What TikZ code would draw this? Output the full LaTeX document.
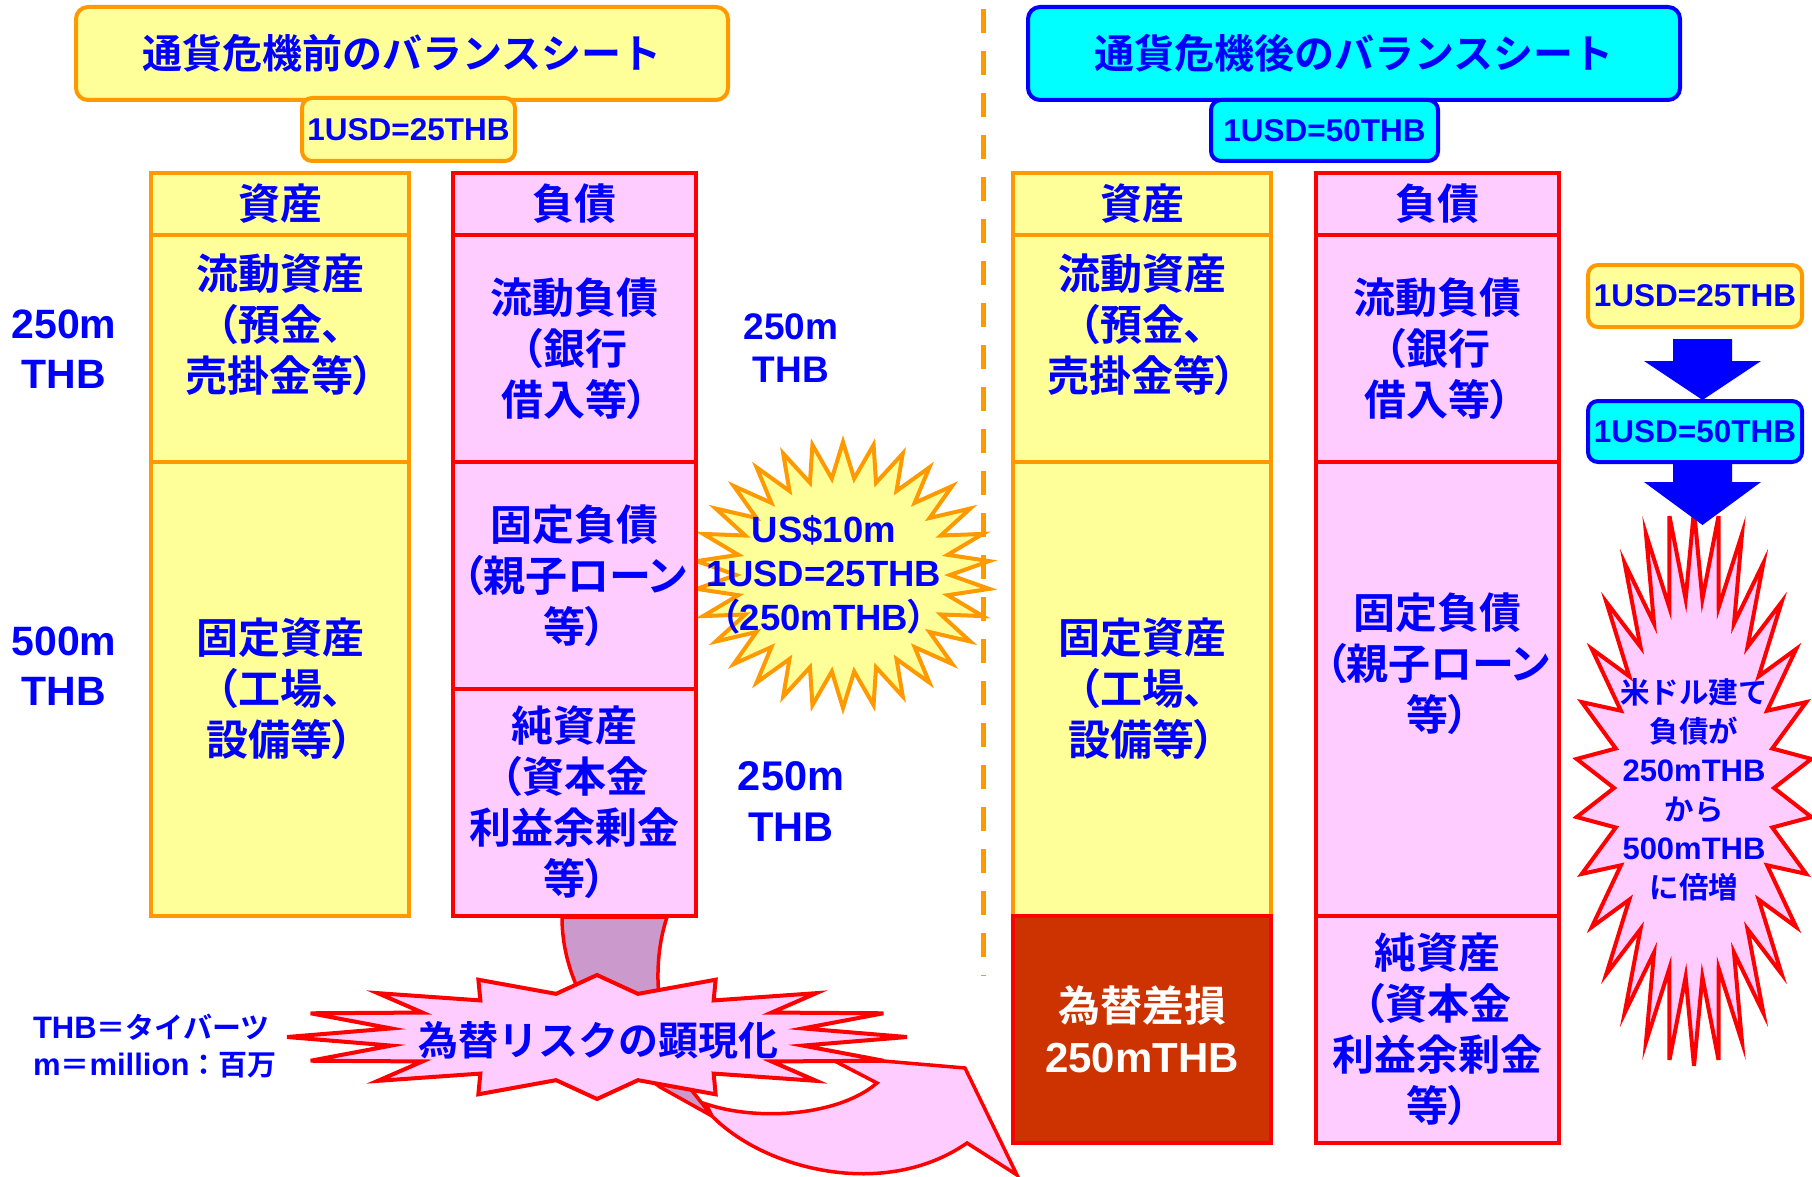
\documentclass[tikz,border=0pt]{standalone}
\usepackage{fontspec}
\setmainfont{Liberation Sans}
\newfontfamily\latfam{Liberation Sans}
\newfontfamily\fJ{Noto Sans CJK JP Bold}
\newfontfamily\fP{Noto Sans CJK JP Bold}[RawFeature=+palt]
\newcommand{\fL}{\latfam\bfseries}
\newcommand{\fs}[2]{\fontsize{#1}{#2}\selectfont}
\usetikzlibrary{calc}
\definecolor{yel}{HTML}{FFFF99}
\definecolor{org}{HTML}{FF9900}
\definecolor{pnk}{HTML}{FFCCFF}
\definecolor{rd}{HTML}{FF0000}
\definecolor{blu}{HTML}{0000FF}
\definecolor{cyn}{HTML}{00FFFF}
\definecolor{dred}{HTML}{CC3300}
\definecolor{mauve}{HTML}{CC99CC}
\begin{document}
\begin{tikzpicture}[x=1pt,y=-1pt,
  every node/.style={inner sep=0pt, outer sep=0pt, text=blu},
  ybox/.style={rectangle, draw=org, fill=yel, line width=4pt},
  pbox/.style={rectangle, draw=rd, fill=pnk, line width=4pt},
  dbox/.style={rectangle, draw=rd, fill=dred, line width=4pt},
  titleY/.style={rectangle, draw=org, fill=yel, line width=4pt, rounded corners=12pt},
  titleC/.style={rectangle, draw=blu, fill=cyn, line width=4pt, rounded corners=12pt},
  smallY/.style={rectangle, draw=org, fill=yel, line width=4pt, rounded corners=10pt},
  smallC/.style={rectangle, draw=blu, fill=cyn, line width=4pt, rounded corners=10pt},
  btxt/.style={align=center, font=\fP\fs{42}{51}},
  ttxt/.style={font=\fJ\fs{40}{48}},
  utxt/.style={font=\fL\fs{31.5}{36}},
  ystarstyle/.style={draw=org, fill=yel, line width=4pt, line join=miter},
  rstarstyle/.style={draw=rd, fill=pnk, line width=4pt, line join=miter},
  backband/.style={draw=rd, fill=mauve, line width=3.5pt, line join=round},
  frontband/.style={draw=rd, fill=pnk, line width=3.5pt, line join=miter},
  divider/.style={draw=org, line width=5pt, dash pattern=on 24pt off 18pt},
  blockarrow/.style={fill=blu}
]
\useasboundingbox (0,0) rectangle (1812,1177);
\fill[white] (0,0) rectangle (1812,1177);

% dashed divider
\coordinate (dtop) at (983,9);
\coordinate (dbot) at (983,976);
\draw[divider] (dtop) -- (dbot);

% titles
\node[titleY, minimum width=652, minimum height=93, ttxt] (titleL) at (402,53.5) {通貨危機前のバランスシート};
\node[titleC, minimum width=652, minimum height=93, ttxt] (titleR) at (1354,53.5) {通貨危機後のバランスシート};
\node[smallY, minimum width=213, minimum height=63, utxt] (usdL) at (408.5,129.5) {1USD=25THB};
\node[smallC, minimum width=227, minimum height=61, utxt] (usdR) at (1324.5,130.5) {1USD=50THB};

% curved arrow (behind)
\coordinate (cbL) at (562,917);
\coordinate (cbR) at (667,917);
\coordinate (tw1) at (712,1116);
\coordinate (tw2) at (693,1092);
\coordinate (notch) at (967,1143);
\coordinate (tip) at (1017,1175);
\coordinate (wing) at (965,1068);
\coordinate (hu) at (825,1056);
\coordinate (ci) at (877,1083);
\coordinate (cq) at (706,1104);
\path[backband] (cbL) .. controls (562,990) and (610,1050) .. (660,1087) -- (tw1) -- (tw2)
   .. controls (660,1045) and (648,975) .. (cbR) -- cycle;
\path[frontband] (tw1) .. controls (765,1170) and (885,1200) .. (notch) -- (tip) -- (wing) -- (hu) -- (ci)
   .. controls (840,1115) and (760,1122) .. (cq) -- cycle;

% yellow starburst
\draw[ystarstyle] plot[samples at={0,...,59}, variable=\k]
  ({843+(147-40*mod(\k,2))*cos(\k*6-90)}, {575+(133-36*mod(\k,2))*sin(\k*6-90)}) -- cycle;
\node[align=center, font=\fs{36.5}{44}] (ystar) at (824,575)
  {{\fL US\$10m}\\{\fL 1USD=25THB}\\{\fP （}{\fL 250mTHB}{\fP ）}};

% left balance sheet
\node[ybox, minimum width=258, minimum height=62, btxt] (la0) at (280,204) {資産};
\node[ybox, minimum width=258, minimum height=227] (la1) at (280,348.5) {};
\node[btxt] (la1t) at (280,325) {流動資産\\（預金、\\売掛金等）};
\node[ybox, minimum width=258, minimum height=454, btxt] (la2) at (280,689) {固定資産\\（工場、\\設備等）};

\node[pbox, minimum width=243, minimum height=62, btxt] (ll0) at (574.5,204) {負債};
\node[pbox, minimum width=243, minimum height=227, btxt] (ll1) at (574.5,348.5) {流動負債\\（銀行\\借入等）};
\node[pbox, minimum width=243, minimum height=227, btxt] (ll2) at (574.5,575.5) {固定負債\\（親子ローン\\等）};
\node[pbox, minimum width=243, minimum height=227, btxt] (ll3) at (574.5,802.5) {純資産\\（資本金\\利益余剰金\\等）};

% right balance sheet
\node[ybox, minimum width=258, minimum height=62, btxt] (ra0) at (1142,204) {資産};
\node[ybox, minimum width=258, minimum height=227] (ra1) at (1142,348.5) {};
\node[btxt] (ra1t) at (1142,325) {流動資産\\（預金、\\売掛金等）};
\node[ybox, minimum width=258, minimum height=454, btxt] (ra2) at (1142,689) {固定資産\\（工場、\\設備等）};
\node[dbox, minimum width=258, minimum height=227, btxt, text=white] (ra3) at (1142,1029.5) {為替差損\\{\fL 250mTHB}};

\node[pbox, minimum width=243, minimum height=62, btxt] (rl0) at (1437.5,204) {負債};
\node[pbox, minimum width=243, minimum height=227, btxt] (rl1) at (1437.5,348.5) {流動負債\\（銀行\\借入等）};
\node[pbox, minimum width=243, minimum height=454] (rl2) at (1437.5,689) {};
\node[btxt] (rl2t) at (1437.5,664) {固定負債\\（親子ローン\\等）};
\node[pbox, minimum width=243, minimum height=227, btxt] (rl3) at (1437.5,1029.5) {純資産\\（資本金\\利益余剰金\\等）};

% amount labels
\node[align=center, font=\fL\fs{41}{50}] (lbl1) at (64,349) {250m\\THB};
\node[align=center, font=\fL\fs{41}{50}] (lbl2) at (64,666) {500m\\THB};
\node[align=center, font=\fL\fs{37}{43}] (lbl3) at (791,348) {250m\\THB};
\node[align=center, font=\fL\fs{41.5}{51}] (lbl4) at (791,802) {250m\\THB};

% bottom starburst
\draw[rstarstyle] plot[samples at={0,...,31}, variable=\k]
  ({597+(310-100*mod(\k,2))*cos(\k*11.25)}, {1037+(62-18*mod(\k,2))*sin(\k*11.25)}) -- cycle;
\node[font=\fJ\fs{40}{48}] (risk) at (598,1040) {為替リスクの顕現化};

% legend text
\node[anchor=west, font=\fs{29}{36}] (note1) at (33,1027) {{\fL\fs{31}{36}THB}{\fJ ＝タイバーツ}};
\node[anchor=west, font=\fs{29}{36}] (note2) at (33,1065) {{\fL\fs{31}{36}m}{\fJ ＝}{\fL\fs{31}{36}million}{\fJ ：百万}};

% right side: rate change
\draw[rstarstyle] plot[samples at={0,...,59}, variable=\k]
  ({1694+(118-38*mod(\k,2))*cos(\k*6-90)}, {788+(278-88*mod(\k,2))*sin(\k*6-90)}) -- cycle;
\coordinate (rtop) at (1694,510);
\node[align=center, font=\fs{29.5}{39}] (rstar) at (1694,790)
  {{\fJ 米ドル建て}\\{\fJ 負債が}\\{\fL\fs{31}{39}250mTHB}\\{\fJ から}\\{\fL\fs{31}{39}500mTHB}\\{\fJ に倍増}};

\node[smallY, minimum width=214, minimum height=62, utxt] (usdA) at (1695,296) {1USD=25THB};
\node[smallC, minimum width=214, minimum height=61, utxt] (usdB) at (1695,431.5) {1USD=50THB};

\coordinate (a1s) at ($(usdA.south)+(7.5,12)$);
\coordinate (a1t) at ($(usdB.north)+(7.5,-1)$);
\fill[blockarrow] let \p1=(a1s), \p2=(a1t) in
  (\x1-29.5pt,\y1) -- (\x1+29.5pt,\y1) -- (\x1+29.5pt,\y2+39pt) -- (\x1+58.5pt,\y2+39pt)
  -- (\p2) -- (\x1-58.5pt,\y2+39pt) -- (\x1-29.5pt,\y2+39pt) -- cycle;
\coordinate (a2s) at ($(usdB.south)+(7.5,1)$);
\coordinate (a2t) at ($(rtop)+(8.5,15)$);
\fill[blockarrow] let \p1=(a2s), \p2=(a2t) in
  (\x1-29.5pt,\y1) -- (\x1+29.5pt,\y1) -- (\x1+29.5pt,\y2+43pt) -- (\x1+58.5pt,\y2+43pt)
  -- (\p2) -- (\x1-58.5pt,\y2+43pt) -- (\x1-29.5pt,\y2+43pt) -- cycle;
\end{tikzpicture}
\end{document}
